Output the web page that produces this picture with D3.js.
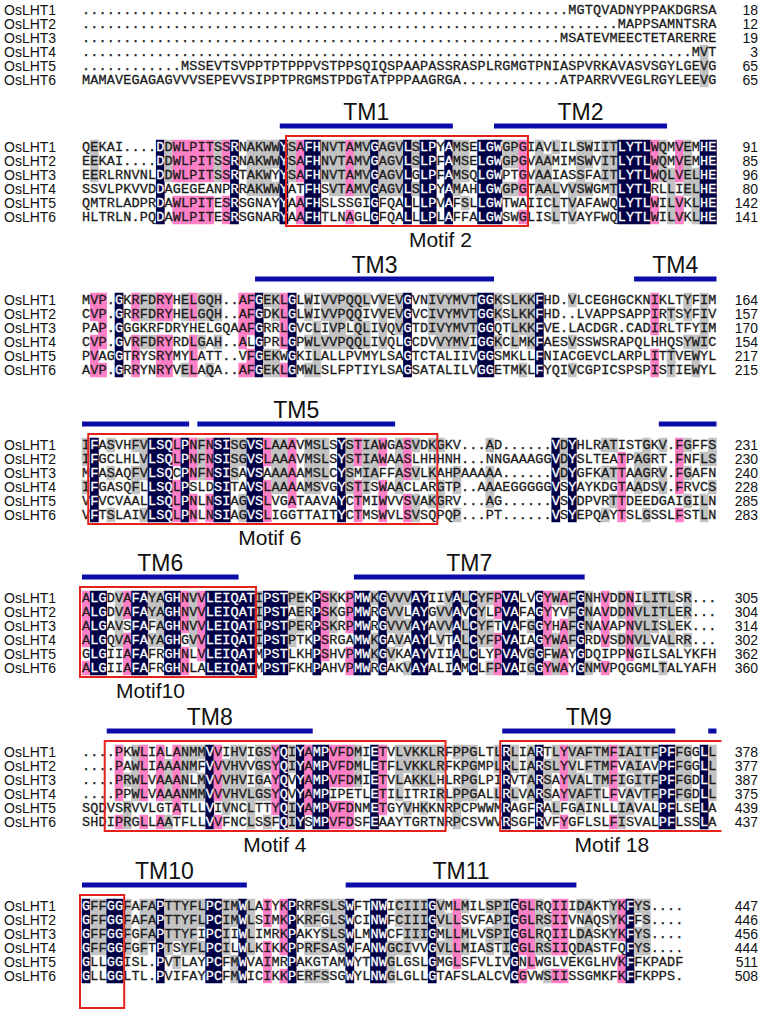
<!DOCTYPE html>
<html><head><meta charset="utf-8">
<script src="https://cdnjs.cloudflare.com/ajax/libs/d3/7.8.5/d3.min.js"></script>
<style>body{margin:0;background:#fff}</style>
</head><body><svg id="c" width="764" height="1012"></svg>
<script>
const seqNames = ["OsLHT1","OsLHT2","OsLHT3","OsLHT4","OsLHT5","OsLHT6"];
const gap = n => ".".repeat(n);

const block1 = [
  gap(59)+"MGTQVADNYPPAKDGRSA",
  gap(65)+"MAPPSAMNTSRA",
  gap(58)+"MSATEVMEECTETARERRE",
  gap(74)+"MVT",
  gap(12)+"MSSEVTSVPPTPTPPPVSTPPSQIQSPAAPASSRASPLRGMGTPNIASPVRKAVASVSGYLGEVG",
  "MAMAVEGAGAGVVVSEPEVVSIPPTPRGMSTPDGTATPPPAAGRGA"+gap(12)+"ATPARRVVEGLRGYLEEVG"
];
const block2 = [
  "QEKAI....DDWLPITSSRNAKWWYSAFHNVTAMVGAGVLSLPYAMSELGWGPGIAVLILSWIITLYTLWQMVEMHE",
  "EEKAI....DDWLPITSSRNAKWWYSAFHNVTAMVGAGVLSLPFAMSELGWGPGVAAMIMSWVITLYTLWQMVEMHE",
  "EERLRNVNLDDWLPITSSRTAKWYYSAFHNVTAMVGAGVLGLPFAMSQLGWPTGVAAIASSFAITLYTLWQLVELHE",
  "SSVLPKVVDDAGEGEANPRRAKWWYATFHSVTAMVGAGVLSLPYAMAHLGWGPGTAALVVSWGMTLYTLRLLIELHE",
  "QMTRLADPRDAWLPITESRSGNAYYAAFHSLSSGIGFQALLLPVAFSLLGWTWAIICLTVAFAWQLYTLWILVKLHE",
  "HLTRLN.PQDAWLPITESRSGNARYAAFHTLNAGLGFQALLLPLAFFALGWSWGLISLTVAYFWQLYTLWILVKLHE"
];
const block3 = [
  "MVP.GKRFDRYHELGQH..AFGEKLGLWIVVPQQLVVEVGVNIVYMVTGGKSLKKFHD.VLCEGHGCKNIKLTYFIM",
  "CVP.GRRFDRYHELGQH..AFGDKLGLWIVVPQQIVVEVGVCIVYMVTGGKSLKKFHD..LVAPPSAPPIRTSYFIV",
  "PAP.GGGKRFDRYHELGQAAFGRRLGVCLIVPLQLIVQVGTDIVYMVTGGQTLKKFVE.LACDGR.CADIRLTFYIM",
  "CVP.GVRFDRYRDLGAH..ALGPRLGPWLVVPQQLIVQLGCDVVYMVIGGKCLMKFAESVSSWSRAPQLHHQSYWIC",
  "PVAGGTRYSRYMYLATT..VFGEKWGKILALLPVMYLSAGTCTALIIVGGSMKLLFNIACGEVCLARPLITTVEWYL",
  "AVP.GRRYNRYVELAQA..AFGEKLGMWLSLFPTIYLSAGSATALILVGGETMKLFYQIVCGPICSPSPISTIEWYL"
];
const block4 = [
  "IFASVHFVLSQLPNFNSISGVSLAAAVMSLSYSTIAWGASVDKGKV...AD......VDYHLRATISTGKV.FGFFS",
  "IFGCLHLVLSQLPNFNSISGVSLAAAVMSLSYSTIAWAASLHHHNH...NNGAAAGGVDYSLTEATPAGRT.FNFLS",
  "MFASAQFVLSQCPNFNSISAVSAAAAAMSLCYSMIAFFASVLKAHPAAAAA......VDYGFKATTAAGRV.FGAFN",
  "IFGASQFLLSQLPSLDSITAVSLAAAAMSVGYSTISWAACLARGTP..AAAEGGGGGVSYAYKDGTAADSV.FRVCS",
  "VFVCVAALLSQLPNLNSIAGVSLVGATAAVAYCTMIWVVSVAKGRV...AG......VSYDPVRTTDEEDGAIGILN",
  "VFTSLAIVLSQLPNLNSIAGVSLIGGTTAITYCTMSWVLSVSQPQP...PT......VSYEPQAYTSLGSSLFSTLN"
];
const block5 = [
  "ALGDVAFAYAGHNVVLEIQATIPSTPEKPSKKPMWKGVVVAYIIVALCYFPVALVGYWAFGNHVDDNILITLSR...",
  "ALGDVAFAYAGHNVVLEIQATIPSTAERPSKGPMWRGVVLAYGVVAVCYLPVAFAGYYVFGNAVDDNVLITLER...",
  "ALGAVSFAFAGHNVVLEIQATIPSTPERPSKRPMWRGVVVAYAVVALCYFTVAFGGYHAFGNAVAPNVLISLEK...",
  "ALGQVAFAYAGHGVVLEIQATIPSTPTKPSRGAMWKGAVAAYLVTALCYFPVAIAGYWAFGRDVSDNVLVALRR...",
  "GLGIIAFAFRGHNLVLEIQATMPSTLKHPSHVPMWKGVKAAYVIIALCLYPVAVGGFWAYGDQIPPNGILSALYKFH",
  "ALGIIAFAFRGHNLALEIQATMPSTFKHPAHVPMWRGAKVAYALIAMCLFPVAIGGYWAYGNMVPQGGMLTALYAFH"
];
const block6 = [
  "....PKWLIALANMMVVIHVIGSYQIYAMPVFDMIETVLVKKLRFPPGLTLRLIARTLYVAFTMFIAITFPFFGGLL",
  "....PAWLIAAANMFVVVHVVGSYQIYAMPVFDMLETFLVKKLRFKPGMPLRLIARSLYVLFTMFVAIAVPFFGGLL",
  "....PRWLVAAANLMVVVHVIGAYQVYAMPVFDMIETVLAKKLHLRPGLPIRVTARSAYVALTMFIGITFPFFGDLL",
  "....PPWLVAAANMMVVVHVLGSYQVYAMPIPETLETILITRIRLPPGALLRLVARSAYVAFTLFVAVTFPFFGDLL",
  "SQDVSRVVLGTATLLVIVNCLTTYQIYAMPVFDNMETGYVHKKNRPCPWWMRAGFRALFGAINLLIAVALPFLSELA",
  "SHDIPRGLLAATFLLVVFNCLSSFQIYSMPVFDSFEAAYTGRTNRPCSVWVRSGFRVFYGFLSLFISVALPFLSSLA"
];
const block7 = [
  "GFFGGFAFAPTTYFLPCIMWLAIYKPRRFSLSWFTNWICIIIGVMLMILSPIGGLRQIIIDAKTYKFYS....",
  "GFFGGFAFAPTTYFLPCIMWLSIMKPKRFGLSWCINWFCIIIGVLLSVFAPIGGLRSIIVNAQSYKFFS....",
  "GFFGGFGFAPTTYFIPCIIWLIMRKPAKYSLSWLMNWCFIIIGMLLMLVSPIGGLRQIILDASKYKFYS....",
  "GFFGGFGFTPTSYFLPCILWLKIKKPPRFSASWFANWGCIVVGVLLMIASTIGGLRSIIQDASTFQFYS....",
  "GLLGGISL.PVTLAYPCFMWVAIMRPAKGTAMWYTNWGLGSLGMGLSFVLIVGNLWGLVEKGLHVKFFKPADF",
  "GLLGGLTL.PVIFAYPCFMWICIKKPERFSSGWYLNWGLGLLGTAFSLALCVGGVWSIISSGMKFKFFKPPS."
];
const blocks = [block1, block2, block3, block4, block5, block6, block7];

const endNumbers = [
  [18,12,19,3,65,65],
  [91,85,96,80,142,141],
  [164,157,170,154,217,215],
  [231,230,240,228,285,283],
  [305,304,314,302,362,360],
  [378,377,387,375,439,437],
  [447,446,456,444,511,508]
];

// transmembrane bars: block index, first column, last column, label
const tmBlock = [1,1,2,2,3,3,3,4,4,5,5,5,6,6];
const tmStart = [25,51,22,68,1,15,71,1,34,4,52,77,1,33];
const tmEnd   = [45,71,50,77,13,38,77,19,61,28,72,77,20,60];
const tmLabel = ["TM1","TM2","TM3","TM4","","TM5","","TM6","TM7","TM8","TM9","","TM10","TM11"];

// motif boxes: block index, first column, last column, label, label column
const motifBlock = [1,3,4,5,5,6];
const motifStart = [26,2,1,4,52,1];
const motifEnd   = [54,43,21,44,77,5];
const motifLabel = ["Motif 2","Motif 6","Motif10","Motif 4","Motif 18",""];
const motifLabelCol = [43.5,22.8,8.3,23.4,64.3,0];

// layout
const svg = d3.select("#c");
const X0 = 82, PW = 8.24, RH = 14;
const rowCenter1 = [10, 147, 300, 445, 598, 752, 906];
const navy = "#000046", pink = "#ff80c6", grey = "#c3c3c3";
const sans = "Liberation Sans, Arial, sans-serif";

blocks.forEach((blk, bi) => {
  const ncol = d3.max(blk, s => s.length);
  const cols = d3.range(1, ncol + 1);
  const C = rowCenter1[bi];
  const x = d3.scaleBand().domain(cols).range([X0, X0 + ncol * PW]).padding(0);
  const y = d3.scaleBand().domain(seqNames).range([C - RH / 2, C - RH / 2 + 6 * RH]).padding(0);
  const g = svg.append("g");
  const cells = [];
  cols.forEach(c => {
    const res = blk.map(s => s[c - 1] || ".");
    const counts = d3.rollup(res.filter(r => r !== "."), v => v.length, r => r);
    let best = null, bc = 0;
    res.forEach(r => { if (r !== "." && counts.get(r) > bc) { bc = counts.get(r); best = r; } });
    res.forEach((r, i) => {
      let level = 0;
      if (r === best) level = bc === 6 ? 3 : bc === 5 ? 2 : bc >= 3 ? 1 : 0;
      cells.push({c, i, r, level});
    });
  });
  g.selectAll("rect.s").data(cells.filter(d => d.level > 0)).join("rect")
    .attr("x", d => x(d.c) - 0.25).attr("width", PW + 0.5)
    .attr("y", d => y(seqNames[d.i]) - 0.25).attr("height", RH + 0.5)
    .attr("fill", d => d.level === 3 ? navy : d.level === 2 ? pink : grey);
  g.selectAll("text.r").data(cells).join("text")
    .attr("x", d => x(d.c) + PW / 2).attr("y", d => y(seqNames[d.i]) + RH / 2 + 4.4)
    .attr("text-anchor", "middle")
    .attr("font-family", "Liberation Mono, Courier New, monospace")
    .attr("font-size", 13.5)
    .attr("fill", d => d.level === 3 ? "#ffffff" : "#1a1a1a")
    .attr("stroke", d => d.level === 3 ? "#ffffff" : "#1a1a1a")
    .attr("stroke-width", 0.3)
    .text(d => d.r);
  g.selectAll("text.n").data(seqNames).join("text")
    .attr("x", 4).attr("y", d => y(d) + RH / 2 + 5)
    .attr("font-family", sans).attr("font-size", 14)
    .attr("fill", "#111").text(d => d);
  g.selectAll("text.e").data(endNumbers[bi]).join("text")
    .attr("x", 758).attr("y", (d, i) => y(seqNames[i]) + RH / 2 + 5)
    .attr("text-anchor", "end")
    .attr("font-family", sans).attr("font-size", 14)
    .attr("fill", "#111").text(d => d);

  tmBlock.forEach((b, k) => {
    if (b !== bi) return;
    const x1 = x(tmStart[k]), x2 = x(tmEnd[k]) + PW;
    g.append("rect").attr("x", x1).attr("width", x2 - x1)
      .attr("y", C - 23.5).attr("height", 5).attr("fill", "#0c0ca8");
    if (tmLabel[k]) g.append("text").attr("x", (x1 + x2) / 2).attr("y", C - 27)
      .attr("text-anchor", "middle").attr("font-family", sans)
      .attr("font-size", 23).attr("fill", "#111").text(tmLabel[k]);
  });
  motifBlock.forEach((b, k) => {
    if (b !== bi) return;
    const x1 = x(motifStart[k]) - 2, x2 = x(motifEnd[k]) + PW + 1;
    const top = C - 11;
    const bottom = motifLabel[k] ? C + 5 * RH + 9 : 1008;
    const path = motifEnd[k] === ncol && bi === 5
      ? `M${x2 + 4},${top}H${x1}V${bottom}H${x2 + 4}`
      : `M${x1},${top}H${x2}V${bottom}H${x1}Z`;
    g.append("path").attr("d", path).attr("fill", "none")
      .attr("stroke", "#e4221b").attr("stroke-width", 2);
    if (motifLabel[k]) g.append("text")
      .attr("x", X0 + motifLabelCol[k] * PW).attr("y", bottom + 21)
      .attr("text-anchor", "middle").attr("font-family", sans)
      .attr("font-size", 21).attr("fill", "#111").text(motifLabel[k]);
  });
});
</script></body></html>
